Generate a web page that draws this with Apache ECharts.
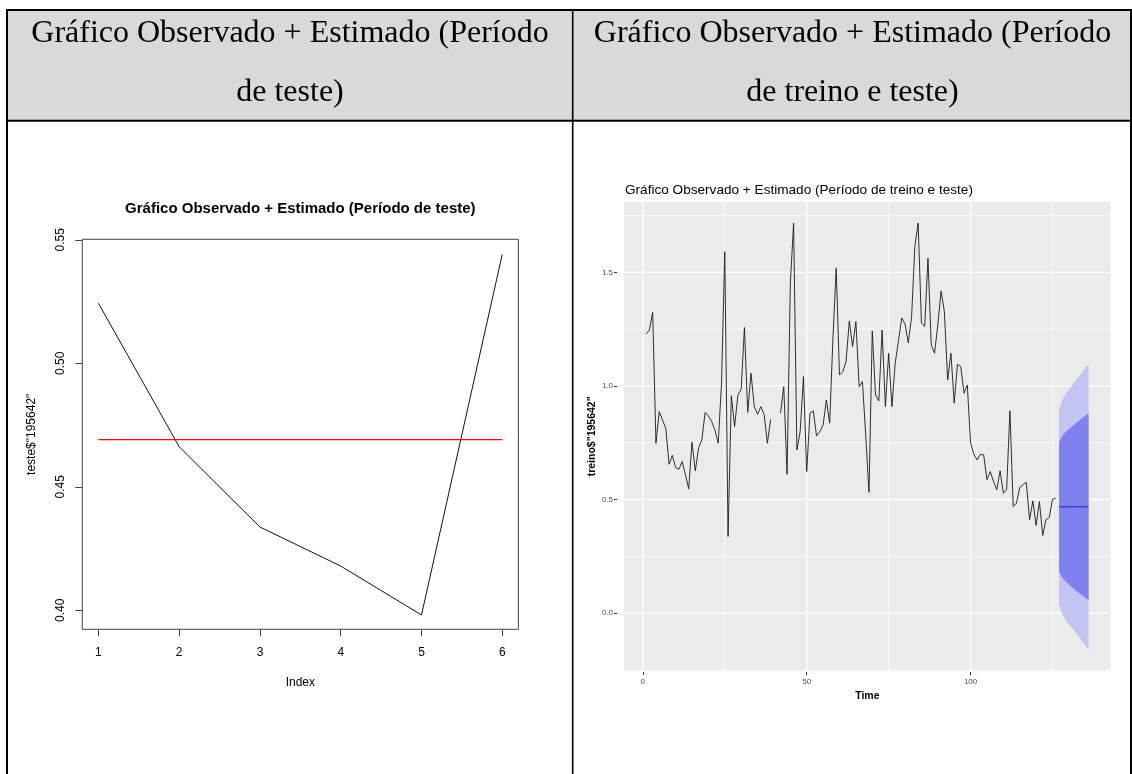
<!DOCTYPE html>
<html><head><meta charset="utf-8">
<script src="https://cdn.jsdelivr.net/npm/echarts@6/dist/echarts.min.js"></script>
<style>html,body{margin:0;padding:0;background:#fff}#c{width:1132px;height:774px}</style>
</head><body><div id="c"></div>
<script>
// ---------- header texts ----------
const headerLeft = ['Gráfico Observado + Estimado (Período', 'de teste)'];
const headerRight = ['Gráfico Observado + Estimado (Período', 'de treino e teste)'];

// ---------- left chart (test period) ----------
const leftTitle = 'Gráfico Observado + Estimado (Período de teste)';
const testeIndex = [1, 2, 3, 4, 5, 6];
const testeObs = [0.5243, 0.4662, 0.4337, 0.4179, 0.3981, 0.5441];
const testeEst = [0.4691, 0.4691, 0.4691, 0.4691, 0.4691, 0.4691];
const leftXTicks = [1, 2, 3, 4, 5, 6];
const leftYTicks = [0.40, 0.45, 0.50, 0.55];

// ---------- right chart (train + forecast) ----------
const rightTitle = 'Gráfico Observado + Estimado (Período de treino e teste)';
const treinoStart = 1;
const treinoValues = [
  1.229, 1.246, 1.324, 0.748, 0.887, 0.850, 0.814, 0.655, 0.694, 0.641,
  0.633, 0.667, 0.609, 0.547, 0.752, 0.626, 0.726, 0.762, 0.883, 0.868,
  0.843, 0.805, 0.748, 1.012, 1.591, 0.337, 0.957, 0.821, 0.960, 0.985,
  1.257, 0.884, 1.056, 0.909, 0.875, 0.909, 0.875, 0.748, 0.853, null,
  null, 0.880, 0.997, 0.611, 1.450, 1.717, 0.718, 0.799, 1.041, 0.623,
  0.880, 0.890, 0.780, 0.799, 0.828, 0.938, 0.836, 1.210, 1.518, 1.048,
  1.063, 1.107, 1.286, 1.173, 1.283, 0.997, 1.019, 0.784, 0.532, 1.242,
  0.960, 0.934, 1.246, 0.909, 1.144, 0.909, 1.100, 1.200, 1.299, 1.272,
  1.189, 1.306, 1.614, 1.717, 1.277, 1.262, 1.562, 1.180, 1.144, 1.268,
  1.418, 1.327, 1.026, 1.144, 0.924, 1.095, 1.085, 0.968, 1.004, 0.748,
  0.699, 0.674, 0.699, 0.696, 0.587, 0.623, 0.579, 0.543, 0.626, 0.528,
  0.545, 0.890, 0.469, 0.484, 0.553, 0.565, 0.575, 0.411, 0.494, 0.386,
  0.491, 0.342, 0.411, 0.421, 0.501, 0.506
];
const fcTime = [127, 128, 129, 130, 131, 132, 133, 134, 135, 136];
const fcMean = [0.468, 0.468, 0.468, 0.468, 0.468, 0.468, 0.468, 0.468, 0.468, 0.468];
const fcLo80 = [0.182, 0.155, 0.139, 0.126, 0.113, 0.101, 0.090, 0.078, 0.067, 0.056];
const fcHi80 = [0.754, 0.781, 0.797, 0.810, 0.823, 0.835, 0.846, 0.858, 0.869, 0.880];
const fcLo95 = [0.036, -0.004, -0.029, -0.049, -0.067, -0.086, -0.104, -0.123, -0.142, -0.161];
const fcHi95 = [0.900, 0.940, 0.965, 0.985, 1.003, 1.022, 1.040, 1.059, 1.078, 1.097];
const rightXTicks = [0, 50, 100];
const rightYTicks = [0, 0.5, 1.0, 1.5];
const rightXMinor = [25, 75, 125];
const rightYMinor = [-0.25, 0.25, 0.75, 1.25, 1.75];

// ---------- build ----------
const chart = echarts.init(document.getElementById('c'), null, {renderer: 'canvas'});
const SANS = 'Liberation Sans';
const SERIF = 'Liberation Serif';

const treinoData = treinoValues.map((v, i) => [treinoStart + i, v]);

function band(lo, hi, color) {
  return {
    type: 'custom', xAxisIndex: 1, yAxisIndex: 1, z: 2, silent: true,
    data: [[fcTime[0], fcMean[0]]],
    renderItem: function (params, api) {
      const pts = [];
      for (let i = 0; i < fcTime.length; i++) pts.push(api.coord([fcTime[i], hi[i]]));
      for (let i = fcTime.length - 1; i >= 0; i--) pts.push(api.coord([fcTime[i], lo[i]]));
      return {type: 'polygon', shape: {points: pts}, style: {fill: color, stroke: null}};
    }
  };
}

// gridline items: [value, isY, isMajor]
const gridItems = [];
rightXTicks.forEach(v => gridItems.push([v, 0, 1]));
rightYTicks.forEach(v => gridItems.push([v, 1, 1]));
rightXMinor.forEach(v => gridItems.push([v, 0, 0]));
rightYMinor.forEach(v => gridItems.push([v, 1, 0]));

const gridSeries = {
  type: 'custom', xAxisIndex: 1, yAxisIndex: 1, z: 1, silent: true,
  data: gridItems.map(g => [g[1] ? 0 : g[0], g[1] ? g[0] : 0.5, g[1], g[2]]),
  encode: {x: 0, y: 1},
  renderItem: function (params, api) {
    const cs = params.coordSys;
    const isY = api.value(2), major = api.value(3);
    const style = {stroke: major ? '#FFFFFF' : '#F9F9F9', lineWidth: major ? 1.3 : 0.9};
    if (isY) {
      const p = api.coord([0, api.value(1)]);
      return {type: 'line', shape: {x1: cs.x, y1: p[1], x2: cs.x + cs.width, y2: p[1]}, style: style};
    }
    const p = api.coord([api.value(0), 0]);
    return {type: 'line', shape: {x1: p[0], y1: cs.y, x2: p[0], y2: cs.y + cs.height}, style: style};
  }
};

const graphics = [
  {type: 'rect', shape: {x: 7, y: 10, width: 1124, height: 111}, style: {fill: '#D9D9D9'}, z: 0},
  {type: 'line', shape: {x1: 6, y1: 10, x2: 1132, y2: 10}, style: {stroke: '#000', lineWidth: 2}},
  {type: 'line', shape: {x1: 6, y1: 120.8, x2: 1132, y2: 120.8}, style: {stroke: '#000', lineWidth: 2}},
  {type: 'line', shape: {x1: 7, y1: 9, x2: 7, y2: 774}, style: {stroke: '#000', lineWidth: 2}},
  {type: 'line', shape: {x1: 572.7, y1: 9, x2: 572.7, y2: 774}, style: {stroke: '#000', lineWidth: 1.6}},
  {type: 'line', shape: {x1: 1131, y1: 9, x2: 1131, y2: 774}, style: {stroke: '#000', lineWidth: 2}}
];
const hdrStyle = {fontFamily: SERIF, fontSize: 32, fill: '#000', align: 'center', verticalAlign: 'middle'};
[[headerLeft, 290], [headerRight, 852.5]].forEach(([lines, cx]) => {
  lines.forEach((t, i) => {
    graphics.push({type: 'text', x: cx, y: i === 0 ? 34 : 92.5, style: Object.assign({text: t}, hdrStyle), z: 5});
  });
});

const option = {
  animation: false,
  backgroundColor: '#FFFFFF',
  textStyle: {fontFamily: SANS},
  title: [
    {text: leftTitle, left: 300.3, top: 201.5, textAlign: 'center', padding: 0,
     textStyle: {fontFamily: SANS, fontSize: 15, fontWeight: 'bold', color: '#000'}},
    {text: rightTitle, left: 625, top: 183, padding: 0,
     textStyle: {fontFamily: SANS, fontSize: 13.6, fontWeight: 'normal', color: '#000'}}
  ],
  graphic: graphics,
  grid: [
    {left: 82.3, top: 239.3, width: 436.1, height: 390, show: true, borderColor: '#444', borderWidth: 1,
     backgroundColor: 'transparent', containLabel: false},
    {left: 624, top: 201.7, width: 486.7, height: 469.3, show: true, borderWidth: 0,
     backgroundColor: '#EBEBEB', containLabel: false}
  ],
  xAxis: [
    {type: 'value', gridIndex: 0, min: 0.8, max: 6.2,
     axisLine: {show: false, onZero: false}, splitLine: {show: false},
     axisTick: {show: true, customValues: leftXTicks, length: 7, lineStyle: {color: '#444', width: 1}},
     axisLabel: {customValues: leftXTicks, fontSize: 12, color: '#000', margin: 17, fontFamily: SANS},
     name: 'Index', nameLocation: 'middle', nameGap: 47,
     nameTextStyle: {fontSize: 12, color: '#000', fontFamily: SANS}},
    {type: 'value', gridIndex: 1, min: -5.75, max: 142.75, offset: 1,
     axisLine: {show: false, onZero: false}, splitLine: {show: false},
     axisTick: {show: true, customValues: rightXTicks, length: 3, lineStyle: {color: '#333', width: 1}},
     axisLabel: {customValues: rightXTicks, fontSize: 8, color: '#4D4D4D', margin: 5.5, fontFamily: SANS},
     name: 'Time', nameLocation: 'middle', nameGap: 18,
     nameTextStyle: {fontSize: 10.5, fontWeight: 'bold', color: '#000', fontFamily: SANS}}
  ],
  yAxis: [
    {type: 'value', gridIndex: 0, min: 0.3923, max: 0.5502,
     axisLine: {show: false, onZero: false}, splitLine: {show: false},
     axisTick: {show: true, customValues: leftYTicks, length: 7, lineStyle: {color: '#444', width: 1}},
     axisLabel: {customValues: leftYTicks, rotate: 90, fontSize: 12, color: '#000', margin: 16, fontFamily: SANS,
                 formatter: v => v.toFixed(2)},
     name: 'teste$"195642"', nameLocation: 'middle', nameGap: 45,
     nameTextStyle: {fontSize: 12, color: '#000', fontFamily: SANS}},
    {type: 'value', gridIndex: 1, min: -0.255, max: 1.811, offset: 7,
     axisLine: {show: false, onZero: false}, splitLine: {show: false},
     axisTick: {show: true, customValues: rightYTicks, length: 3, lineStyle: {color: '#333', width: 1}},
     axisLabel: {customValues: rightYTicks, fontSize: 8, color: '#4D4D4D', margin: 4, fontFamily: SANS,
                 formatter: v => v.toFixed(1)},
     name: 'treino$"195642"', nameLocation: 'middle', nameGap: 12,
     nameTextStyle: {fontSize: 10.5, fontWeight: 'bold', color: '#000', fontFamily: SANS}}
  ],
  series: [
    {type: 'line', name: 'observado', xAxisIndex: 0, yAxisIndex: 0, z: 3, symbol: 'none',
     data: testeIndex.map((x, i) => [x, testeObs[i]]),
     lineStyle: {color: '#111', width: 1}},
    {type: 'line', name: 'estimado', xAxisIndex: 0, yAxisIndex: 0, z: 3, symbol: 'none',
     data: testeIndex.map((x, i) => [x, testeEst[i]]),
     lineStyle: {color: '#FF0000', width: 1.3}},
    gridSeries,
    band(fcLo95, fcHi95, '#C4C4F3'),
    band(fcLo80, fcHi80, '#8080EE'),
    {type: 'line', name: 'treino', xAxisIndex: 1, yAxisIndex: 1, z: 4, symbol: 'none', connectNulls: false,
     data: treinoData, lineStyle: {color: '#1A1A1A', width: 0.9}},
    {type: 'line', name: 'previsao', xAxisIndex: 1, yAxisIndex: 1, z: 5, symbol: 'none',
     data: fcTime.map((t, i) => [t, fcMean[i]]), lineStyle: {color: '#2020D0', width: 1}}
  ]
};
chart.setOption(option);
</script>
</body></html>
